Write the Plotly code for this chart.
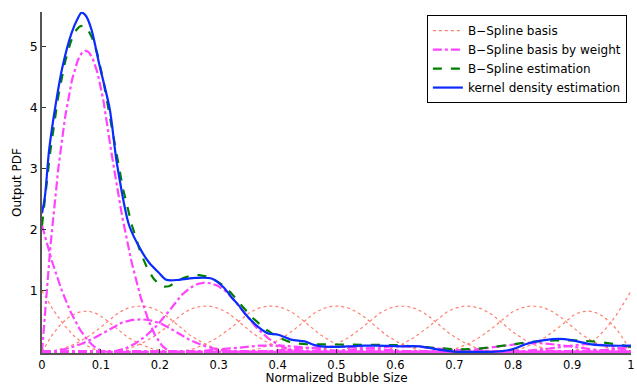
import numpy as np
import plotly.graph_objects as go

# ---- data ----
# quadratic B-spline, clamped, 9 uniform intervals on [0, 1]
n_intervals = 9
spline_degree = 2
weights = [2.07, 7.4, 0.71, 1.51, 0.14, 0.11, 0.12, 0.0, 0.19, 0.19, 0.08]

kde_x = [0, 0.005, 0.012, 0.022, 0.035, 0.05, 0.06, 0.067, 0.075, 0.084, 0.098,
         0.115, 0.127, 0.148, 0.169, 0.182, 0.198, 0.211, 0.233, 0.261, 0.288,
         0.309, 0.322, 0.334, 0.345, 0.368, 0.384, 0.401, 0.423, 0.446, 0.463,
         0.485, 0.52, 0.548, 0.57, 0.609, 0.642, 0.676, 0.705, 0.75, 0.764,
         0.798, 0.826, 0.853, 0.877, 0.899, 0.933, 0.966, 1.0]
kde_y = [2.27, 2.55, 3.3, 3.98, 4.68, 5.22, 5.45, 5.56, 5.5, 5.28, 4.68,
         3.98, 3.1, 2.07, 1.65, 1.46, 1.3, 1.18, 1.18, 1.21, 1.2,
         1.05, 0.89, 0.76, 0.62, 0.40, 0.30, 0.28, 0.20, 0.17, 0.11,
         0.08, 0.09, 0.10, 0.10, 0.09, 0.09, 0.03, 0.0, 0.0, 0.0,
         0.04, 0.14, 0.19, 0.21, 0.19, 0.12, 0.10, 0.10]

x_ticks = [0, 0.1, 0.2, 0.3, 0.4, 0.5, 0.6, 0.7, 0.8, 0.9, 1]
x_tick_labels = ["0", "0.1", "0.2", "0.3", "0.4", "0.5", "0.6", "0.7", "0.8", "0.9", "1"]
y_ticks = [1, 2, 3, 4, 5]
y_tick_labels = ["1", "2", "3", "4", "5"]

# ---- B-spline basis evaluation (Cox-de Boor) ----
inner = np.linspace(0, 1, n_intervals + 1)
knots = np.concatenate([[0] * spline_degree, inner, [1] * spline_degree])
xs = np.linspace(0, 1, 601)


def basis(i, k, x):
    if k == 0:
        if knots[i + 1] == 1.0 and knots[i] < 1.0:
            return ((x >= knots[i]) & (x <= knots[i + 1])).astype(float)
        return ((x >= knots[i]) & (x < knots[i + 1])).astype(float)
    out = np.zeros_like(x)
    d1 = knots[i + k] - knots[i]
    d2 = knots[i + k + 1] - knots[i + 1]
    if d1 > 0:
        out += (x - knots[i]) / d1 * basis(i, k - 1, x)
    if d2 > 0:
        out += (knots[i + k + 1] - x) / d2 * basis(i + 1, k - 1, x)
    return out


n_basis = len(knots) - spline_degree - 1
B = [basis(i, spline_degree, xs) for i in range(n_basis)]
weighted = [w * b for w, b in zip(weights, B)]
estimate = np.sum(weighted, axis=0)

FONT = "DejaVu Sans"
fig = go.Figure()

for i, b in enumerate(B):
    fig.add_trace(go.Scatter(x=xs, y=b, mode="lines", name="B\u2212Spline basis",
                             legendgroup="basis", showlegend=(i == 0),
                             line=dict(color="#ff7f6e", width=1.2, dash="dot")))
for i, wb in enumerate(weighted):
    fig.add_trace(go.Scatter(x=xs, y=wb, mode="lines", name="B\u2212Spline basis by weight",
                             legendgroup="wbasis", showlegend=(i == 0),
                             line=dict(color="#ff44ff", width=2.2, dash="dashdot")))
fig.add_trace(go.Scatter(x=xs, y=estimate, mode="lines", name="B\u2212Spline estimation",
                         line=dict(color="#008000", width=2.2, dash="dash")))
fig.add_trace(go.Scatter(x=kde_x, y=kde_y, mode="lines", name="kernel density estimation",
                         line=dict(color="#0a2cff", width=2.2, shape="spline", smoothing=0.8)))

fig.update_layout(
    width=637, height=385,
    margin=dict(l=42, r=2, t=12, b=30),
    paper_bgcolor="white", plot_bgcolor="white",
    font=dict(family=FONT, size=12, color="black"),
    legend=dict(x=0.993, y=0.991, xanchor="right", yanchor="top",
                bgcolor="white", bordercolor="black", borderwidth=1,
                font=dict(family=FONT, size=12), tracegroupgap=0,
                itemwidth=30),
    xaxis=dict(range=[0, 1], tickvals=x_ticks, ticktext=x_tick_labels,
               ticks="inside", ticklen=4, tickcolor="#333",
               showline=True, linecolor="#555", linewidth=1.5,
               showgrid=False, zeroline=False, ticklabeloverflow="allow",
               title=dict(text="Normalized Bubble Size", standoff=3,
                          font=dict(size=12)),
               tickfont=dict(size=11.5)),
    yaxis=dict(range=[-0.02, 5.57], tickvals=y_ticks, ticktext=y_tick_labels,
               ticks="inside", ticklen=4, tickcolor="#333",
               showline=True, linecolor="#555", linewidth=1.5,
               showgrid=False, zeroline=False,
               title=dict(text="Output PDF", standoff=6, font=dict(size=12)),
               tickfont=dict(size=12.5)),
)

fig.write_html("out.html")
